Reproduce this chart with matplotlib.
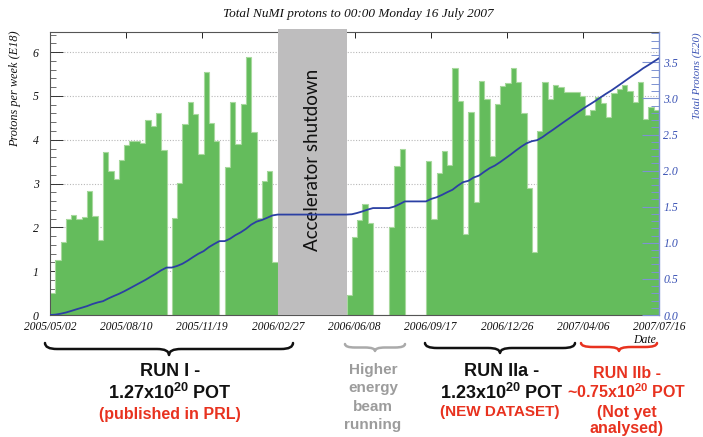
import numpy as np
import matplotlib
matplotlib.use("Agg")
import matplotlib.pyplot as plt
from matplotlib.path import Path
from matplotlib.patches import PathPatch, Rectangle
from matplotlib.ticker import MultipleLocator, FixedLocator

plt.rcParams['mathtext.fontset'] = 'custom'
plt.rcParams['mathtext.rm'] = 'Liberation Sans:bold'
plt.rcParams['mathtext.bf'] = 'Liberation Sans:bold'
plt.rcParams['mathtext.it'] = 'Liberation Sans:bold'

# ---------------- data ----------------
title = "Total NuMI protons to 00:00 Monday 16 July 2007"
date_labels = ["2005/05/02", "2005/08/10", "2005/11/19", "2006/02/27", "2006/06/08",
               "2006/09/17", "2006/12/26", "2007/04/06", "2007/07/16"]
total_days = 805          # 2005/05/02 -> 2007/07/16
days_per_bin = 7
shutdown_days = [302, 392]  # grey "Accelerator shutdown" band (days since start)

# protons per week (E18), one value per weekly bin
weekly_protons = [
    0.51, 1.26, 1.66, 2.19, 2.28, 2.18, 2.23, 2.83, 2.27, 1.71,
    3.73, 3.29, 3.10, 3.54, 3.89, 3.97, 3.98, 3.93, 4.46, 4.32,
    4.62, 3.76, 0.00, 2.22, 3.02, 4.35, 4.87, 4.58, 3.67, 5.55,
    4.38, 3.97, 0.00, 3.38, 4.86, 3.91, 4.82, 5.89, 4.17, 2.21,
    3.06, 3.29, 1.20, 0.00, 0.00, 0.00, 0.00, 0.00, 0.00, 0.00,
    0.00, 0.00, 0.00, 0.00, 0.00, 0.00, 0.45, 1.77, 2.17, 2.53,
    2.09, 0.00, 0.00, 0.00, 2.02, 3.41, 3.79, 0.00, 0.00, 0.00,
    0.00, 3.52, 2.19, 3.25, 3.74, 3.43, 5.64, 4.88, 1.85, 4.63,
    2.58, 5.34, 4.94, 3.63, 4.82, 5.23, 5.30, 5.64, 5.33, 4.60,
    2.89, 1.44, 4.21, 5.32, 4.94, 5.25, 5.21, 5.08, 5.10, 5.08,
    5.00, 4.56, 4.68, 4.98, 4.85, 4.52, 5.06, 5.15, 5.24, 5.12,
    4.87, 5.31, 4.47, 4.75, 4.68,
]

# ---------------- figure ----------------
W, H = 703, 437
fig = plt.figure(figsize=(W / 100, H / 100), dpi=100)
L, R, T, B = 50, 659, 32, 315
ax = fig.add_axes([L / W, (H - B) / H, (R - L) / W, (B - T) / H])

serif = 'Liberation Serif'
sans = 'Liberation Sans'
green = '#64bc5c'
green_edge = '#a8d99e'
blue_line = '#2b40a3'
blue_axis = '#7d92d2'
blue_text = '#3a52b4'
red = '#e8321f'
frame_col = '#555555'

vals = np.array(weekly_protons)
edges = np.arange(len(vals) + 1) * days_per_bin

ax.stairs(vals, edges, fill=True, color=green, zorder=2)
ax.stairs(vals, edges, fill=False, color=green_edge, lw=0.8, zorder=2.1)

ax.set_xlim(0, total_days)
ax.set_ylim(0, 6.46)

# horizontal dotted grid behind bars
for yv in range(1, 7):
    ax.axhline(yv, color='#b8b8b8', lw=0.8, ls=(0, (1, 1.5)), zorder=1)

# shutdown band (slightly above frame)
rect = Rectangle((shutdown_days[0], 0), shutdown_days[1] - shutdown_days[0], 1.012,
                 transform=ax.get_xaxis_transform(), facecolor='#bebdbe',
                 edgecolor='none', clip_on=False, zorder=3)
ax.add_patch(rect)
ax.text((shutdown_days[0] + shutdown_days[1]) / 2, 3.55, "Accelerator shutdown",
        rotation=90, ha='center', va='center', fontsize=13.5, family='Lato',
        color='#111111', zorder=4)

# x ticks
xt = np.linspace(0, total_days, len(date_labels))
ax.xaxis.set_major_locator(FixedLocator(xt))
ax.set_xticklabels(date_labels, fontsize=8.3, family=serif, style='italic')
ax.tick_params(axis='x', which='major', direction='in', length=4.5, width=0.7,
               top=True, bottom=True, pad=4.5, colors='#222222')
ax.yaxis.set_major_locator(MultipleLocator(1))
ax.yaxis.set_minor_locator(MultipleLocator(0.2))
ax.tick_params(axis='y', which='major', direction='in', length=9, width=0.7,
               pad=8, colors='#333333', labelsize=8.5)
ax.tick_params(axis='y', which='minor', direction='in', length=4.5, width=0.6,
               colors='#555555')
for lab in ax.get_yticklabels():
    lab.set_family(serif)
    lab.set_style('italic')
    lab.set_color('#111111')
for lab in ax.get_xticklabels():
    lab.set_color('#111111')

for s in ['left', 'bottom', 'top']:
    ax.spines[s].set_color(frame_col)
    ax.spines[s].set_linewidth(0.8)
ax.spines['right'].set_visible(False)

# cumulative protons on right axis
ax2 = ax.twinx()
cum = np.concatenate([[0.0], np.cumsum(vals)]) / 100.0
ax2.plot(edges, cum, color=blue_line, lw=1.3, zorder=5)
ax2.set_ylim(0, 3.92)
ax2.set_xlim(0, total_days)
ax2.yaxis.set_major_locator(MultipleLocator(0.5))
ax2.yaxis.set_minor_locator(MultipleLocator(0.1))
ax2.tick_params(axis='y', which='major', direction='in', length=12, width=0.8,
                colors=blue_axis, pad=3, labelsize=8.5, labelcolor=blue_text)
ax2.tick_params(axis='y', which='minor', direction='in', length=5.5, width=0.7,
                colors=blue_axis)
ax2.set_yticks(np.arange(0, 3.51, 0.5))
ax2.set_yticklabels([f"{v:.1f}" for v in np.arange(0, 3.51, 0.5)])
for lab in ax2.get_yticklabels():
    lab.set_family(serif)
    lab.set_style('italic')
for s in ['left', 'bottom', 'top']:
    ax2.spines[s].set_visible(False)
ax2.spines['right'].set_color(blue_axis)
ax2.spines['right'].set_linewidth(1.0)

# ---------------- overlay for text & braces (pixel coordinates) ----------------
ov = fig.add_axes([0, 0, 1, 1], zorder=10)
ov.set_xlim(0, W)
ov.set_ylim(H, 0)
ov.axis('off')
ov.patch.set_alpha(0)

ov.text(358, 14, title, ha='center', va='center', fontsize=9.5, family=serif,
        style='italic', color='#111111')
ov.text(15, 30, "Protons per week (E18)", rotation=90, ha='center', va='top',
        fontsize=8.8, family=serif, style='italic', color='#111111')
ov.text(697, 32, "Total Protons (E20)", rotation=90, ha='center', va='top',
        fontsize=7.8, family=serif, style='italic', color=blue_text)
ov.text(656, 340, "Date", ha='right', va='center', fontsize=8.5, family=serif,
        style='italic', color='#111111')


def brace(x0, x1, y0, h, color, lw):
    xm = (x0 + x1) / 2
    r = min(12, (x1 - x0) / 6)
    ym = y0 + h / 2
    verts = [(x0, y0), (x0, ym), (x0 + r, ym),
             (xm - r, ym),
             (xm, ym), (xm, y0 + h),
             (xm, ym), (xm + r, ym),
             (x1 - r, ym),
             (x1, ym), (x1, y0)]
    codes = [Path.MOVETO, Path.CURVE3, Path.CURVE3,
             Path.LINETO,
             Path.CURVE3, Path.CURVE3,
             Path.CURVE3, Path.CURVE3,
             Path.LINETO,
             Path.CURVE3, Path.CURVE3]
    ov.add_patch(PathPatch(Path(verts, codes), facecolor='none', edgecolor=color,
                           lw=lw, capstyle='round', joinstyle='round'))


brace(45, 293, 343, 12, '#111111', 1.8)
brace(345, 405, 344, 7, '#aaaaaa', 1.8)
brace(425, 575, 343, 10, '#111111', 1.8)
brace(581, 657, 343, 8, red, 1.8)

kw = dict(ha='center', va='center', family=sans, weight='bold')
ov.text(170, 372, "RUN I -", fontsize=13, color='#111111', **kw)
ov.text(170, 393, r"1.27x10$^{20}$ POT", fontsize=13, color='#111111', **kw)
ov.text(170, 414, "(published in PRL)", fontsize=11.5, color=red, **kw)

gray_txt = '#9c9c9c'
for yy, s in zip([370, 388, 407, 425], ["Higher", "energy", "beam", "running"]):
    ov.text(373, yy, s, fontsize=11, color=gray_txt, **kw)

ov.text(502, 372, "RUN IIa -", fontsize=13, color='#111111', **kw)
ov.text(502, 393, r"1.23x10$^{20}$ POT", fontsize=13, color='#111111', **kw)
ov.text(500, 412, "(NEW DATASET)", fontsize=11, color=red, **kw)

for yy, s in zip([373, 392, 412, 428],
                 ["RUN IIb -", r"~0.75x10$^{20}$ POT", "(Not yet", "analysed)"]):
    ov.text(627, yy, s, fontsize=11.5, color=red, **kw)

fig.savefig("out.png", dpi=100)
